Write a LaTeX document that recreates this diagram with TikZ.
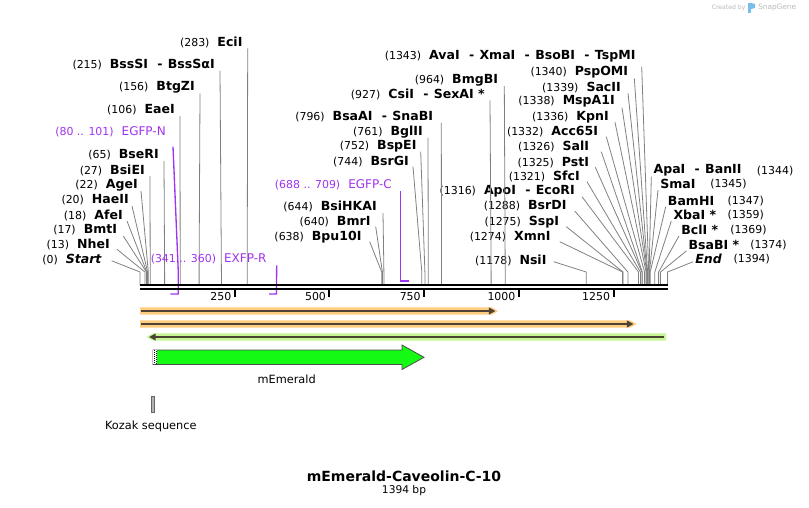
\documentclass[tikz,border=0pt]{standalone}
\usepackage{fontspec}
\setmainfont{DejaVu Sans}
\usetikzlibrary{arrows.meta}
\definecolor{primer}{RGB}{160,50,240}
\definecolor{siteg}{RGB}{128,128,128}
\definecolor{orangeglow}{RGB}{255,204,128}
\definecolor{greenglow}{RGB}{198,245,150}
\definecolor{featgreen}{RGB}{20,250,20}
\definecolor{darkline}{RGB}{75,68,52}
\definecolor{logogray}{RGB}{185,185,185}
\definecolor{logoblue}{RGB}{120,190,235}
\newcommand{\bpnum}[1]{{\fontsize{8.2}{9}\selectfont(#1)}}
\newcommand{\enz}[1]{{\fontsize{9.4}{10}\selectfont\bfseries #1}}
\newcommand{\lft}[2]{\bpnum{#1}\hspace{6pt}\enz{#2}}
\newcommand{\sep}{\hspace{7pt}-\hspace{4pt}}
\tikzset{
  cutsite/.style={inner sep=0pt,anchor=east},
  cutsiter/.style={inner sep=0pt,anchor=west},
  cutline/.style={siteg,line width=0.6pt},
  primerline/.style={primer,line width=1pt},
  bbone/.style={line width=1.8pt},
  tickmark/.style={line width=1.5pt},
  fwdarrow/.style={darkline,line width=1.5pt,-{Triangle[length=5pt,width=5pt]}}
}
\begin{document}
\begin{tikzpicture}[x=0.75pt,y=-0.75pt]
\useasboundingbox (0,0) rectangle (809,507);
\coordinate (kink) at (0,272);
\coordinate (s0) at (140,285);
\coordinate (s13) at (144.9,285);
\coordinate (s17) at (146.4,285);
\coordinate (s18) at (146.8,285);
\coordinate (s20) at (147.6,285);
\coordinate (s22) at (148.3,285);
\coordinate (s27) at (150.2,285);
\coordinate (s65) at (164.6,285);
\coordinate (s106) at (180.2,285);
\coordinate (s156) at (199.1,285);
\coordinate (s215) at (221.4,285);
\coordinate (s283) at (247.2,285);
\coordinate (s638) at (381.7,285);
\coordinate (s640) at (382.4,285);
\coordinate (s644) at (383.9,285);
\coordinate (s744) at (421.8,285);
\coordinate (s752) at (424.9,285);
\coordinate (s761) at (428.3,285);
\coordinate (s796) at (441.5,285);
\coordinate (s927) at (491.1,285);
\coordinate (s964) at (505.2,285);
\coordinate (s1178) at (586.2,285);
\coordinate (s1274) at (622.6,285);
\coordinate (s1275) at (623.0,285);
\coordinate (s1288) at (627.9,285);
\coordinate (s1316) at (638.5,285);
\coordinate (s1321) at (640.4,285);
\coordinate (s1325) at (641.9,285);
\coordinate (s1326) at (642.3,285);
\coordinate (s1332) at (644.6,285);
\coordinate (s1336) at (646.1,285);
\coordinate (s1338) at (646.8,285);
\coordinate (s1339) at (647.2,285);
\coordinate (s1340) at (647.6,285);
\coordinate (s1343) at (648.7,285);
\coordinate (s1344) at (649.1,285);
\coordinate (s1345) at (649.5,285);
\coordinate (s1347) at (650.2,285);
\coordinate (s1359) at (654.8,285);
\coordinate (s1369) at (658.6,285);
\coordinate (s1374) at (660.5,285);
\coordinate (s1394) at (667.5,285);
\coordinate (p80) at (170.3,294);
\coordinate (p101) at (178.3,294);
\coordinate (p341) at (269.2,294);
\coordinate (p360) at (276.4,294);
\coordinate (p688) at (400.6,281);
\coordinate (p709) at (408.6,281);

\node[cutsite] (eci) at (242.7,42.3) {\lft{283}{EciI}};
\node[cutsite] (bsssi) at (215,64.7) {\lft{215}{BssSI\sep BssSαI}};
\node[cutsite] (btgzi) at (195,87.3) {\lft{156}{BtgZI}};
\node[cutsite] (eaei) at (175,110) {\lft{106}{EaeI}};
\node[cutsite] (bseri) at (159,155) {\lft{65}{BseRI}};
\node[cutsite] (bsiei) at (145,170) {\lft{27}{BsiEI}};
\node[cutsite] (agei) at (138,185) {\lft{22}{AgeI}};
\node[cutsite] (haeii) at (129,200) {\lft{20}{HaeII}};
\node[cutsite] (afei) at (123,215) {\lft{18}{AfeI}};
\node[cutsite] (bmti) at (117.3,230) {\lft{17}{BmtI}};
\node[cutsite] (nhei) at (110,244.3) {\lft{13}{NheI}};
\node[cutsite] (start) at (101.7,259.3) {\lft{0}{\itshape Start}};
\node[cutsite] (bpu) at (361.7,236.7) {\lft{638}{Bpu10I}};
\node[cutsite] (bmri) at (370.7,221.7) {\lft{640}{BmrI}};
\node[cutsite] (bsihkai) at (377,206) {\lft{644}{BsiHKAI}};
\node[cutsite] (bsrgi) at (409,161.7) {\lft{744}{BsrGI}};
\node[cutsite] (bspei) at (416.7,146.7) {\lft{752}{BspEI}};
\node[cutsite] (bglii) at (423,131.7) {\lft{761}{BglII}};
\node[cutsite] (bsaai) at (433.3,116.7) {\lft{796}{BsaAI\sep SnaBI}};
\node[cutsite] (csii) at (485,94.3) {\lft{927}{CsiI\sep SexAI *}};
\node[cutsite] (bmgbi) at (498.3,80) {\lft{964}{BmgBI}};
\node[cutsite] (avai) at (635.7,56.7) {\lft{1343}{AvaI\sep XmaI\sep BsoBI\sep TspMI}};
\node[cutsite] (pspomi) at (628.3,72.3) {\lft{1340}{PspOMI}};
\node[cutsite] (sacii) at (621,87.3) {\lft{1339}{SacII}};
\node[cutsite] (mspa) at (615,101.7) {\lft{1338}{MspA1I}};
\node[cutsite] (kpni) at (609,117.3) {\lft{1336}{KpnI}};
\node[cutsite] (acc) at (598.3,131.7) {\lft{1332}{Acc65I}};
\node[cutsite] (sali) at (589.3,146.7) {\lft{1326}{SalI}};
\node[cutsite] (psti) at (589.3,162.3) {\lft{1325}{PstI}};
\node[cutsite] (sfci) at (580,176.7) {\lft{1321}{SfcI}};
\node[cutsite] (apoi) at (575,191.7) {\lft{1316}{ApoI\sep EcoRI}};
\node[cutsite] (bsrdi) at (566.7,206) {\lft{1288}{BsrDI}};
\node[cutsite] (sspi) at (559.3,221.7) {\lft{1275}{SspI}};
\node[cutsite] (xmni) at (550.7,236.7) {\lft{1274}{XmnI}};
\node[cutsite] (nsii) at (546.7,260.7) {\lft{1178}{NsiI}};

\node[cutsiter] (apai) at (653.3,170.7) {\enz{ApaI\sep BanII}};
\node[cutsiter] (apan) at (756.7,170.7) {\bpnum{1344}};
\node[cutsiter] (smai) at (660,184) {\enz{SmaI}};
\node[cutsiter] (sman) at (710,184) {\bpnum{1345}};
\node[cutsiter] (bamhi) at (667.7,200.7) {\enz{BamHI}};
\node[cutsiter] (bamn) at (727.3,200.7) {\bpnum{1347}};
\node[cutsiter] (xbai) at (673.3,215) {\enz{XbaI *}};
\node[cutsiter] (xban) at (727.3,215) {\bpnum{1359}};
\node[cutsiter] (bcli) at (681,230) {\enz{BclI *}};
\node[cutsiter] (bcln) at (730,230) {\bpnum{1369}};
\node[cutsiter] (bsabi) at (688.3,245) {\enz{BsaBI *}};
\node[cutsiter] (bsabn) at (750,245) {\bpnum{1374}};
\node[cutsiter] (endl) at (695,259.3) {\enz{\itshape End}};
\node[cutsiter] (endn) at (733.3,259.3) {\bpnum{1394}};

\draw[cutline] ([shift={(5,6)}]eci.east) -- (s283 |- kink) -- (s283);
\draw[cutline] ([shift={(5,6)}]bsssi.east) -- (s215 |- kink) -- (s215);
\draw[cutline] ([shift={(5,6)}]btgzi.east) -- (s156 |- kink) -- (s156);
\draw[cutline] ([shift={(5,6)}]eaei.east) -- (s106 |- kink) -- (s106);
\draw[cutline] ([shift={(5,6)}]bseri.east) -- (s65 |- kink) -- (s65);
\draw[cutline] ([shift={(5,6)}]bsiei.east) -- (s27 |- kink) -- (s27);
\draw[cutline] ([shift={(3,6)}]agei.east) -- (s22 |- kink) -- (s22);
\draw[cutline] ([shift={(3,6)}]haeii.east) -- (s20 |- kink) -- (s20);
\draw[cutline] ([shift={(4,6)}]afei.east) -- (s18 |- kink) -- (s18);
\draw[cutline] ([shift={(6,6)}]bmti.east) -- (s17 |- kink) -- (s17);
\draw[cutline] ([shift={(7,5)}]nhei.east) -- (s13 |- kink) -- (s13);
\draw[cutline] ([shift={(10,1.5)}]start.east) -- (s0 |- kink) -- (s0);
\draw[cutline] ([shift={(8,5)}]bpu.east) -- (s638 |- kink) -- (s638);
\draw[cutline] ([shift={(5,5)}]bmri.east) -- (s640 |- kink) -- (s640);
\draw[cutline] ([shift={(6,7)}]bsihkai.east) -- (s644 |- kink) -- (s644);
\draw[cutline] ([shift={(4,5)}]bsrgi.east) -- (s744 |- kink) -- (s744);
\draw[cutline] ([shift={(4,5)}]bspei.east) -- (s752 |- kink) -- (s752);
\draw[cutline] ([shift={(5,6)}]bglii.east) -- (s761 |- kink) -- (s761);
\draw[cutline] ([shift={(8,6)}]bsaai.east) -- (s796 |- kink) -- (s796);
\draw[cutline] ([shift={(5,6)}]csii.east) -- (s927 |- kink) -- (s927);
\draw[cutline] ([shift={(6,6)}]bmgbi.east) -- (s964 |- kink) -- (s964);
\draw[cutline] ([shift={(6,10)}]avai.east) -- (s1343 |- kink) -- (s1343);
\draw[cutline] ([shift={(6,6)}]pspomi.east) -- (s1340 |- kink) -- (s1340);
\draw[cutline] ([shift={(7,6)}]sacii.east) -- (s1339 |- kink) -- (s1339);
\draw[cutline] ([shift={(7,6)}]mspa.east) -- (s1338 |- kink) -- (s1338);
\draw[cutline] ([shift={(6,5)}]kpni.east) -- (s1336 |- kink) -- (s1336);
\draw[cutline] ([shift={(8,5)}]acc.east) -- (s1332 |- kink) -- (s1332);
\draw[cutline] ([shift={(12,5)}]sali.east) -- (s1326 |- kink) -- (s1326);
\draw[cutline] ([shift={(6,5)}]psti.east) -- (s1325 |- kink) -- (s1325);
\draw[cutline] ([shift={(7,5)}]sfci.east) -- (s1321 |- kink) -- (s1321);
\draw[cutline] ([shift={(7,5)}]apoi.east) -- (s1316 |- kink) -- (s1316);
\draw[cutline] ([shift={(8,5)}]bsrdi.east) -- (s1288 |- kink) -- (s1288);
\draw[cutline] ([shift={(7,5)}]sspi.east) -- (s1275 |- kink) -- (s1275);
\draw[cutline] ([shift={(9,5)}]xmni.east) -- (s1274 |- kink) -- (s1274);
\draw[cutline] ([shift={(7,1)}]nsii.east) -- (s1178 |- kink) -- (s1178);
\draw[cutline] ([shift={(-2,6)}]apai.west) -- (s1344 |- kink) -- (s1344);
\draw[cutline] ([shift={(-2,6)}]smai.west) -- (s1345 |- kink) -- (s1345);
\draw[cutline] ([shift={(-2,6)}]bamhi.west) -- (s1347 |- kink) -- (s1347);
\draw[cutline] ([shift={(-2,6)}]xbai.west) -- (s1359 |- kink) -- (s1359);
\draw[cutline] ([shift={(-2,6)}]bcli.west) -- (s1369 |- kink) -- (s1369);
\draw[cutline] ([shift={(-2,6)}]bsabi.west) -- (s1374 |- kink) -- (s1374);
\draw[cutline] ([shift={(-2,2.5)}]endl.west) -- (s1394 |- kink) -- (s1394);

\node[cutsite,primer] (egfpn) at (166,131.7) {\bpnum{80 .. 101}\hspace{6pt}{\fontsize{9}{10}\selectfont EGFP-N}};
\node[cutsite,primer] (exfpr) at (266.7,259.3) {\bpnum{341 .. 360}\hspace{6pt}{\fontsize{9}{10}\selectfont EXFP-R}};
\node[cutsite,primer] (egfpc) at (392,185) {\bpnum{688 .. 709}\hspace{6pt}{\fontsize{9}{10}\selectfont EGFP-C}};
\draw[primerline] ([shift={(7,15)}]egfpn.east) -- (p101 |- kink) -- (p101) -- (p80);
\draw[primerline] ([shift={(10,6)}]exfpr.east) -- (p360) -- (p341);
\draw[primerline] ([shift={(8.6,6)}]egfpc.east) -- (p688) -- (p709);

\draw[bbone] (140,285) -- (668,285);
\draw[bbone] (140,289) -- (668,289);
\draw[tickmark] (234.7,289) -- (234.7,297);
\draw[tickmark] (329.4,289) -- (329.4,297);
\draw[tickmark] (424.1,289) -- (424.1,297);
\draw[tickmark] (518.8,289) -- (518.8,297);
\draw[tickmark] (613.5,289) -- (613.5,297);
\node[cutsite] (t250) at (231.5,297) {\fontsize{8.2}{9}\selectfont 250};
\node[cutsite] (t500) at (326.2,297) {\fontsize{8.2}{9}\selectfont 500};
\node[cutsite] (t750) at (420.9,297) {\fontsize{8.2}{9}\selectfont 750};
\node[cutsite] (t1000) at (515.6,297) {\fontsize{8.2}{9}\selectfont 1000};
\node[cutsite] (t1250) at (610.3,297) {\fontsize{8.2}{9}\selectfont 1250};

\fill[orangeglow] (140,307.4) -- (492,307.4) -- (498,311) -- (492,314.6) -- (140,314.6) -- cycle;
\draw[fwdarrow] (141,311) -- (495.5,311);
\fill[orangeglow] (140,320.4) -- (630,320.4) -- (636.5,324) -- (630,327.6) -- (140,327.6) -- cycle;
\draw[fwdarrow] (141,324) -- (633.5,324);
\fill[greenglow] (146.5,337) -- (153,333.4) -- (666,333.4) -- (666,340.6) -- (153,340.6) -- cycle;
\draw[fwdarrow] (663.5,337) -- (149,337);

\draw[fill=featgreen,draw=black!70,line width=0.6pt] (153,350) -- (402,350) -- (402,345) -- (424,357.3) -- (402,369.5) -- (402,364.5) -- (153,364.5) -- cycle;
\fill[white] (153.4,350.4) rectangle (157.3,364.1);
\draw[line width=0.75pt,dash pattern=on 0.75pt off 0.75pt] (154.4,350.4) -- (154.4,364.1);
\draw[line width=0.75pt,dash pattern=on 0.75pt off 0.75pt,dash phase=0.75pt] (156.4,350.4) -- (156.4,364.1);
\node (memerald) at (286.7,379.3) {\fontsize{8.5}{10}\selectfont mEmerald};

\draw[fill=black!30,draw=black!60,line width=0.5pt] (151.3,396) rectangle (154.3,412);
\node (kozak) at (150.8,426) {\fontsize{8.5}{10}\selectfont Kozak sequence};

\node (title) at (404,476) {\fontsize{10.5}{12}\selectfont\bfseries mEmerald-Caveolin-C-10};
\node (length) at (404,491) {\fontsize{8}{9}\selectfont 1394 bp};

\node[cutsiter,logogray] (created) at (711.5,7.5) {\fontsize{4.6}{5}\selectfont Created by};
\fill[logoblue] (748,3) rectangle (751,12.5);
\fill[logoblue] (751,3) -- (755,4) -- (755,8) -- (751,9) -- cycle;
\node[cutsiter,logogray] (snapgene) at (758,7.5) {\fontsize{5.5}{6}\selectfont SnapGene};
\end{tikzpicture}
\end{document}
